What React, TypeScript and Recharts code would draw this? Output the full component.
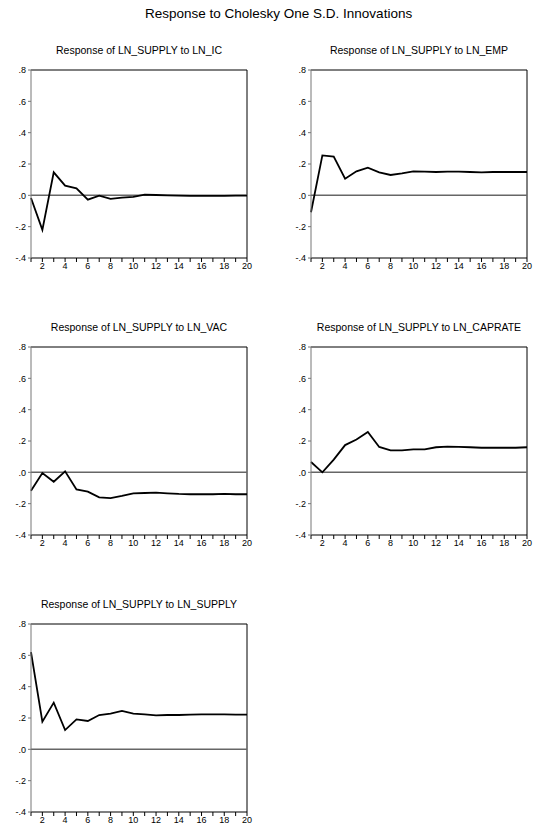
import { LineChart, Line, XAxis, YAxis, ReferenceLine } from "recharts";

const periods = [1, 2, 3, 4, 5, 6, 7, 8, 9, 10, 11, 12, 13, 14, 15, 16, 17, 18, 19, 20];
const yTicks = [-0.4, -0.2, 0, 0.2, 0.4, 0.6, 0.8];

const toIC = [-0.017, -0.22, 0.147, 0.062, 0.045, -0.028, -0.002, -0.023, -0.015, -0.01, 0.005, 0.002, 0.0, -0.002, -0.003, -0.004, -0.004, -0.003, -0.002, -0.002];
const toEMP = [-0.108, 0.255, 0.247, 0.106, 0.153, 0.177, 0.147, 0.13, 0.14, 0.153, 0.151, 0.149, 0.151, 0.151, 0.149, 0.147, 0.149, 0.149, 0.149, 0.149];
const toVAC = [-0.117, -0.004, -0.06, 0.006, -0.109, -0.123, -0.16, -0.164, -0.151, -0.134, -0.132, -0.13, -0.134, -0.138, -0.14, -0.14, -0.14, -0.138, -0.14, -0.14];
const toCAPRATE = [0.066, 0.0, 0.081, 0.174, 0.209, 0.257, 0.162, 0.14, 0.14, 0.147, 0.147, 0.16, 0.164, 0.162, 0.16, 0.157, 0.157, 0.157, 0.157, 0.16];
const toSUPPLY = [0.621, 0.177, 0.298, 0.123, 0.191, 0.181, 0.219, 0.228, 0.245, 0.228, 0.223, 0.217, 0.219, 0.219, 0.221, 0.223, 0.223, 0.223, 0.221, 0.221];

const font = "'Liberation Sans', Arial, sans-serif";

const fmtY = (v: number) => {
  if (Math.abs(v) < 1e-9) return ".0";
  return (v < 0 ? "-" : "") + Math.abs(v).toFixed(1).replace(/^0/, "");
};

const Panel = ({ title, values, left, top }: { title: string; values: number[]; left: number; top: number }) => {
  const data = periods.map((p, i) => ({ p, v: values[i] }));
  return (
    <div style={{ position: "absolute", left, top: top - 10, width: 262, height: 218 }}>
      <div
        style={{
          position: "absolute",
          left: 31,
          width: 216,
          top: -16,
          textAlign: "center",
          fontFamily: font,
          fontSize: 10.5,
          lineHeight: "12px",
          color: "#000",
          whiteSpace: "nowrap",
        }}
      >
        {title}
      </div>
      <LineChart width={262} height={218} data={data} margin={{ top: 10, right: 15, bottom: 0, left: 0 }}>
        <XAxis
          dataKey="p"
          type="number"
          domain={[1, 20]}
          ticks={periods}
          interval={0}
          tickSize={4}
          tickMargin={1}
          height={20}
          stroke="#000"
          tickFormatter={(v: number) => (v % 2 === 0 ? String(v) : "")}
          tick={{ fill: "#000", fontSize: 9, fontFamily: font }}
        />
        <YAxis
          type="number"
          domain={[-0.4, 0.8]}
          ticks={yTicks}
          interval={0}
          width={31}
          tickSize={3}
          tickMargin={2}
          stroke="#777"
          tickFormatter={fmtY}
          tick={{ fill: "#000", fontSize: 9, fontFamily: font }}
        />
        <ReferenceLine y={0.8} stroke="#000" strokeWidth={1} />
        <ReferenceLine x={20} stroke="#000" strokeWidth={1} />
        <ReferenceLine y={0} stroke="#666" strokeWidth={1.5} />
        <Line
          type="linear"
          dataKey="v"
          stroke="#000"
          strokeWidth={1.8}
          dot={false}
          isAnimationActive={false}
        />
      </LineChart>
    </div>
  );
};

export default function App() {
  return (
    <div style={{ position: "absolute", left: 0, top: 0, width: 535, height: 829, background: "#fff" }}>
      <div
        style={{
          position: "absolute",
          left: 145,
          top: 6,
          fontFamily: font,
          fontSize: 13.5,
          lineHeight: "16px",
          color: "#000",
          whiteSpace: "nowrap",
        }}
      >
        Response to Cholesky One S.D. Innovations
      </div>
      <Panel title="Response of LN_SUPPLY to LN_IC" values={toIC} left={0} top={70} />
      <Panel title="Response of LN_SUPPLY to LN_EMP" values={toEMP} left={280} top={70} />
      <Panel title="Response of LN_SUPPLY to LN_VAC" values={toVAC} left={0} top={347} />
      <Panel title="Response of LN_SUPPLY to LN_CAPRATE" values={toCAPRATE} left={280} top={347} />
      <Panel title="Response of LN_SUPPLY to LN_SUPPLY" values={toSUPPLY} left={0} top={624} />
    </div>
  );
}
